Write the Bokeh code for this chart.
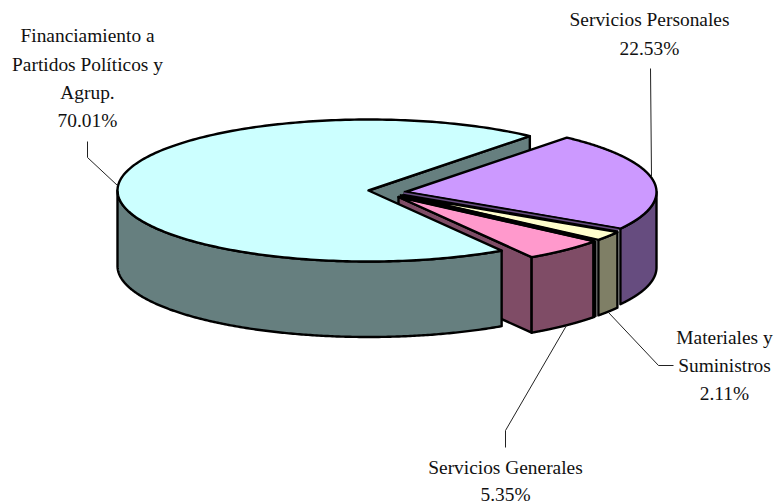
import numpy as np
from bokeh.plotting import figure
from bokeh.embed import file_html
from bokeh.resources import INLINE
from bokeh.core.properties import value

# clockwise from the pie's start angle
names = ["Servicios Personales", "Materiales y Suministros", "Servicios Generales", "Financiamiento a Partidos Políticos y Agrup."]
shares = [22.53, 2.11, 5.35, 70.01]
top_colors = ["#CC99FF", "#FFFFCC", "#FF99CC", "#CCFFFF"]
side_colors = ["#664C7F", "#7F7F66", "#7F4C66", "#667F7F"]

START = 50.0
RX, RY, DEPTH = 251.0, 71.0, 75.5
CENTERS = [(405.0, 191.5), (402.0, 195.0), (398.0, 196.5), (368.0, 190.0)]
OUT = 2.4

p = figure(width=774, height=504, x_range=(0, 774), y_range=(504, 0),
           output_backend="svg", toolbar_location=None, min_border=0)
p.axis.visible = False
p.grid.visible = False
p.outline_line_color = None
p.background_fill_color = "white"
p.border_fill_color = "white"

spans = []
a = START
for s in shares:
    spans.append((a, a - s * 3.6))
    a -= s * 3.6


def pt(c, t):
    r = np.radians(t)
    return c[0] + RX * np.cos(r), c[1] - RY * np.sin(r)


def arc(c, t0, t1, dz=0.0):
    ts = np.radians(np.linspace(t0, t1, 240))
    return c[0] + RX * np.cos(ts), c[1] - RY * np.sin(ts) + dz


def top(i):
    c = CENTERS[i]
    t0, t1 = spans[i]
    x, y = arc(c, t0, t1)
    p.patch(np.r_[c[0], x], np.r_[c[1], y], fill_color=top_colors[i],
            line_color="black", line_width=OUT, line_join="round")


def rim(i, t0, t1):
    c = CENTERS[i]
    x0, y0 = arc(c, t0, t1)
    x1, y1 = arc(c, t1, t0, DEPTH)
    p.patch(np.r_[x0, x1], np.r_[y0, y1], fill_color=side_colors[i],
            line_color="black", line_width=OUT, line_join="round")


def radial(i, t):
    c = CENTERS[i]
    x, y = pt(c, t)
    p.patch([c[0], x, x, c[0]], [c[1], y, y + DEPTH, c[1] + DEPTH], fill_color=side_colors[i],
            line_color="black", line_width=OUT, line_join="round")


# main slice: cut face seen through the gap
radial(3, spans[3][1])
# general services: cut face, partly behind the main slice
radial(2, spans[2][1])
# main slice, front wall and top
rim(3, spans[3][0], -180)
top(3)

# exploded slices
rim(0, spans[0][1], 0)
top(0)
rim(2, spans[2][0], spans[2][1])
top(2)
rim(1, spans[1][0], spans[1][1])
top(1)

# zero-width slices between neighbours
c = CENTERS[0]
ex, ey = pt(c, spans[0][1])
p.line([c[0] - 2, ex - 2], [c[1] + 1, ey + 1], line_color="black", line_width=4.5)
p.line([c[0] - 2, ex - 2], [c[1] + 1, ey + 1], line_color=side_colors[0], line_width=1.5)
c = CENTERS[2]
ex, ey = pt(c, spans[2][0])
p.line([c[0] + 1, ex], [c[1] - 1, ey - 1], line_color="black", line_width=4)
p.line([ex, ex], [ey - 1, ey + DEPTH], line_color="black", line_width=4.5)

# leader lines
leaders_x = [[87, 87, 117], [650, 651], [608, 658, 673], [566, 505, 505]]
leaders_y = [[141, 157, 185], [68, 176], [312, 365, 365], [325, 430, 447]]
for lx, ly in zip(leaders_x, leaders_y):
    p.line(lx, ly, line_color="#222222", line_width=1)

# labels
label_lines = ["Financiamiento a", "Partidos Políticos y", "Agrup.", "70.01%",
               "Servicios Personales", "22.53%",
               "Materiales y", "Suministros", "2.11%",
               "Servicios Generales", "5.35%"]
label_x = [87, 87, 87, 87, 649, 649, 724, 724, 724, 505, 505]
label_y = [35, 64, 92, 120, 19, 48, 337, 365, 393, 467, 494]
p.text(label_x, label_y, text=label_lines, text_font=value("Liberation Serif"), text_font_size="19.4px",
       text_align="center", text_baseline="middle", text_color="#111111")

open("out.html", "w").write(file_html(p, INLINE))
